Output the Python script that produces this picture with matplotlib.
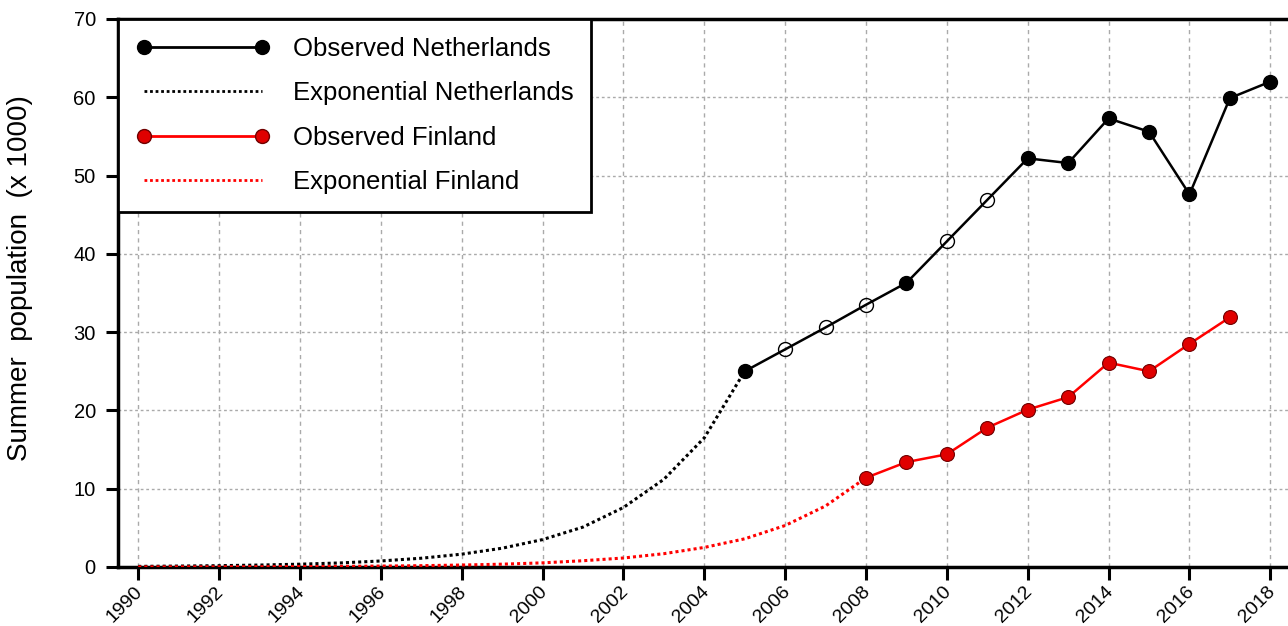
#!/usr/bin/env python3
"""Summer population (x 1000): observed vs. exponential growth, Netherlands and Finland."""
import matplotlib
matplotlib.use("Agg")
import matplotlib.pyplot as plt
from matplotlib.lines import Line2D
from matplotlib.transforms import ScaledTranslation

plt.rcParams["font.family"] = ["Liberation Sans", "DejaVu Sans"]

# observed Netherlands (open circles = estimated years)
NL_YEARS = [2005, 2006, 2007, 2008, 2009, 2010, 2011, 2012, 2013, 2014, 2015, 2016, 2017, 2018]
NL_OBS = [25.0, 27.8, 30.6, 33.5, 36.3, 41.6, 46.9, 52.2, 51.6, 57.3, 55.6, 47.6, 59.9, 62.0]
NL_ESTIMATED = [False, True, True, True, False, True, True, False, False, False, False, False, False, False]

# exponential back-projection Netherlands
NL_EXP_YEARS = list(range(1990, 2006))
NL_EXP = [0.08, 0.12, 0.17, 0.25, 0.36, 0.52, 0.77, 1.12, 1.64, 2.4, 3.5, 5.1, 7.6, 11.2, 16.5, 25.0]

# observed Finland
FI_YEARS = [2008, 2009, 2010, 2011, 2012, 2013, 2014, 2015, 2016, 2017]
FI_OBS = [11.4, 13.4, 14.4, 17.8, 20.1, 21.7, 26.1, 25.0, 28.5, 31.9]

# exponential back-projection Finland
FI_EXP_YEARS = list(range(1990, 2009))
FI_EXP = [0.01, 0.02, 0.02, 0.04, 0.05, 0.08, 0.12, 0.17, 0.25, 0.36, 0.53,
          0.8, 1.15, 1.7, 2.5, 3.6, 5.3, 7.8, 11.4]

X_TICKS = list(range(1990, 2019, 2))
Y_TICKS = list(range(0, 71, 10))

RED = "#ff0000"
RED_FACE = "#e00000"
RED_EDGE = "#700000"


def main():
    fig = plt.figure(figsize=(12.88, 6.26), dpi=100)
    ax = fig.add_axes([118 / 1288, 59 / 626, 1.0 - 118 / 1288 + 0.002, 548 / 626])

    # exponential curves
    ax.plot(NL_EXP_YEARS, NL_EXP, color="black", lw=2.2, ls=(0, (1, 1)), zorder=3)
    ax.plot(FI_EXP_YEARS, FI_EXP, color=RED, lw=2.2, ls=(0, (1, 1)), zorder=3)

    # observed Netherlands
    ax.plot(NL_YEARS, NL_OBS, color="black", lw=1.8, zorder=4)
    filled = [(x, y) for x, y, e in zip(NL_YEARS, NL_OBS, NL_ESTIMATED) if not e]
    hollow = [(x, y) for x, y, e in zip(NL_YEARS, NL_OBS, NL_ESTIMATED) if e]
    ax.plot([p[0] for p in filled], [p[1] for p in filled], ls="none", marker="o",
            ms=10, mfc="black", mec="black", zorder=5)
    ax.plot([p[0] for p in hollow], [p[1] for p in hollow], ls="none", marker="o",
            ms=10, mfc="none", mec="black", mew=1.0, zorder=5)

    # observed Finland
    ax.plot(FI_YEARS, FI_OBS, color=RED, lw=1.8, marker="o", ms=10,
            mfc=RED_FACE, mec=RED_EDGE, mew=0.8, zorder=5)

    ax.set_xlim(1989.5, 2018.5)
    ax.set_ylim(0, 70)
    ax.set_xticks(X_TICKS)
    ax.set_yticks(Y_TICKS)
    ax.set_xticklabels([str(t) for t in X_TICKS], rotation=45, ha="right",
                       rotation_mode="anchor", fontsize=14)
    ax.set_yticklabels([str(t) for t in Y_TICKS], fontsize=14.5)
    ax.tick_params(axis="both", direction="out", length=9, width=2.2)
    ax.tick_params(axis="y", pad=7)
    ax.tick_params(axis="x", pad=2.5)
    # nudge the rotated year labels a few pixels left, under their ticks
    shift = ScaledTranslation(-0.04, 0.0, fig.dpi_scale_trans)
    for lbl in ax.get_xticklabels():
        lbl.set_transform(lbl.get_transform() + shift)

    ax.xaxis.grid(True, color="#aaaaaa", ls=(0, (3, 3)), lw=1.0)
    ax.yaxis.grid(True, color="#aaaaaa", ls=(0, (2, 2)), lw=1.0)
    ax.set_axisbelow(True)

    for side in ("left", "bottom", "top"):
        ax.spines[side].set_linewidth(2.5)
    ax.spines["right"].set_visible(False)

    ax.set_ylabel("Summer  population  (x 1000)", fontsize=20)
    ax.yaxis.set_label_coords(-0.0726, 0.527)

    handles = [
        Line2D([], [], color="black", lw=2.0, marker="o", ms=10, mfc="black", mec="black"),
        Line2D([], [], color="black", lw=2.0, ls=(0, (1, 1))),
        Line2D([], [], color=RED, lw=2.0, marker="o", ms=10, mfc=RED_FACE, mec=RED_EDGE),
        Line2D([], [], color=RED, lw=2.0, ls=(0, (1, 1))),
    ]
    labels = ["Observed Netherlands", "Exponential Netherlands",
              "Observed Finland", "Exponential Finland"]
    leg = ax.legend(handles, labels, loc="upper left", bbox_to_anchor=(0.0, 1.0),
                    fontsize=18.5, numpoints=2, handlelength=5.2, handletextpad=0.9,
                    labelspacing=0.79, borderpad=0.7, borderaxespad=0.0,
                    fancybox=False, framealpha=1.0, edgecolor="black")
    leg.get_frame().set_linewidth(2.0)

    fig.savefig("out.png", dpi=100)


if __name__ == "__main__":
    main()
